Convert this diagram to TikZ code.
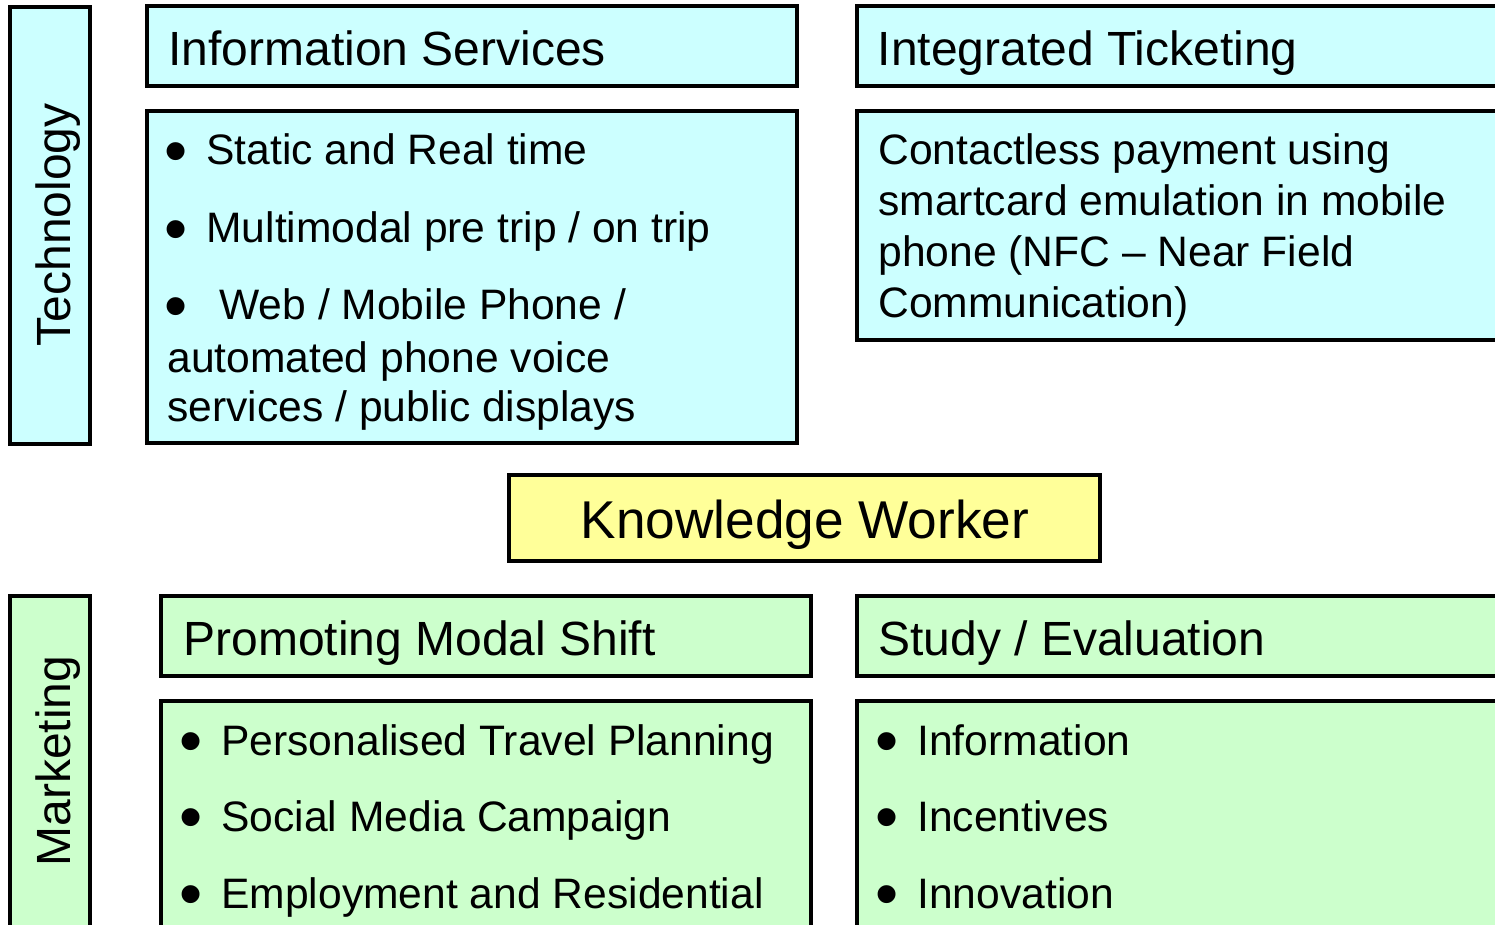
\documentclass[tikz,border=0pt]{standalone}
\usepackage{fontspec}
\setmainfont{Liberation Sans}

\definecolor{techcyan}{HTML}{CCFFFF}
\definecolor{markgreen}{HTML}{CCFFCC}
\definecolor{kwyellow}{HTML}{FFFF99}

\tikzset{
	techbox/.style={fill=techcyan, draw=black, line width=2pt},
	markbox/.style={fill=markgreen, draw=black, line width=2pt},
	kwbox/.style={fill=kwyellow, draw=black, line width=2pt},
	headtxt/.style={anchor=base west, inner sep=0pt, font=\fontsize{24}{28}\selectfont},
	itemtxt/.style={anchor=base west, inner sep=0pt, font=\fontsize{21.3}{25.5}\selectfont},
	sidetxt/.style={anchor=base, rotate=90, inner sep=0pt, font=\fontsize{24}{28}\selectfont},
	kwtxt/.style={anchor=base, inner sep=0pt, font=\fontsize{26.6}{30}\selectfont}
}
\newcommand{\bul}[1][19.5pt]{\makebox[#1][l]{\hspace{-1.5pt}\smash{\raisebox{-0.19em}{\scalebox{1.55}{•}}}}}

\begin{document}
\begin{tikzpicture}[x=0.5pt, y=-0.5pt]
	\useasboundingbox (0,0) rectangle (1495,925);
	\clip (0,0) rectangle (1495,925);
	
	% technology
	\draw [techbox] (10, 7) rectangle (90, 444);
	\draw [techbox] (146.5, 6.5) rectangle (797, 86.5);
	\draw [techbox] (146.5, 111.5) rectangle (797, 443);
	\draw [techbox] (857, 6.5) rectangle (1530, 86.5);
	\draw [techbox] (857, 111) rectangle (1530, 340);
	
	% knowledge worker
	\draw [kwbox] (509, 475) rectangle (1100, 561);
	
	% marketing
	\draw [markbox] (10, 596) rectangle (90, 960);
	\draw [markbox] (161, 596) rectangle (811, 676);
	\draw [markbox] (161, 701) rectangle (811, 960);
	\draw [markbox] (857, 596) rectangle (1530, 676);
	\draw [markbox] (857, 701) rectangle (1530, 960);
	
	% side labels
	\node [sidetxt] (tech) at (70, 225) {Technology};
	\node [sidetxt] (mark) at (70, 761) {Marketing};
	
	% information services
	\node [headtxt] (infohead) at (168, 65.5) {Information Services};
	\node [itemtxt] (info1) at (167, 165) {\bul Static and Real time};
	\node [itemtxt] (info2) at (167, 243) {\bul Multimodal pre trip / on trip};
	\node [itemtxt] (info3) at (167, 320) {\bul[26pt]Web / Mobile Phone /};
	\node [itemtxt] (info4) at (167, 372) {automated phone voice};
	\node [itemtxt] (info5) at (167, 422) {services / public displays};
	
	% integrated ticketing
	\node [headtxt] (tickhead) at (877.5, 65.5) {Integrated Ticketing};
	\node [itemtxt] (tick1) at (878, 165) {Contactless payment using};
	\node [itemtxt] (tick2) at (878, 216) {smartcard emulation in mobile};
	\node [itemtxt] (tick3) at (878, 267) {phone (NFC – Near Field};
	\node [itemtxt] (tick4) at (878, 318) {Communication)};
	
	% centre
	\node [kwtxt] (kw) at (805, 538) {Knowledge Worker};
	
	% promoting modal shift
	\node [headtxt] (modehead) at (183, 655) {Promoting Modal Shift};
	\node [itemtxt] (mode1) at (182, 755) {\bul Personalised Travel Planning};
	\node [itemtxt] (mode2) at (182, 831) {\bul Social Media Campaign};
	\node [itemtxt] (mode3) at (182, 908) {\bul Employment and Residential};
	
	% study / evaluation
	\node [headtxt] (evalhead) at (878, 655) {Study / Evaluation};
	\node [itemtxt] (eval1) at (878, 755) {\bul Information};
	\node [itemtxt] (eval2) at (878, 831) {\bul Incentives};
	\node [itemtxt] (eval3) at (878, 908) {\bul Innovation};
\end{tikzpicture}
\end{document}
